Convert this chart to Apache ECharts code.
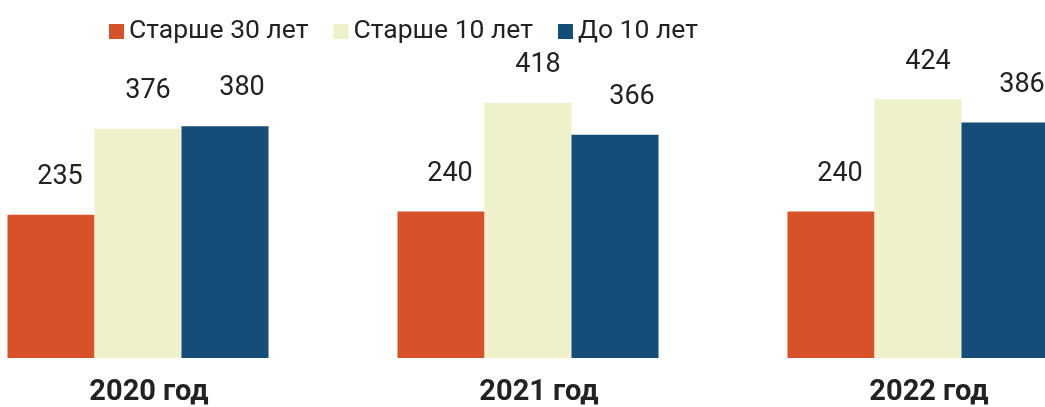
<!DOCTYPE html>
<html>
<head>
  <meta charset="utf-8">
  <title>Возраст</title>
  <style>
    html, body { margin: 0; padding: 0; background: #fff; }
    #chart { width: 1045px; height: 407px; }
  </style>
</head>
<body>
  <div id="chart"></div>
  <script src="https://cdn.jsdelivr.net/npm/echarts@6/dist/echarts.min.js"></script>
  <script>
    // данные по годам
    var years = ['2020 год', '2021 год', '2022 год'];
    var seriesNames = ['Старше 30 лет', 'Старше 10 лет', 'До 10 лет'];
    var over30 = [235, 240, 240];
    var over10 = [376, 418, 424];
    var under10 = [380, 366, 386];

    var colors = ['#D75228', '#EEF1C9', '#134D78'];
    var labelShift = [9, 10, 17];
    var values = [over30, over10, under10];

    var chart = echarts.init(document.getElementById('chart'));

    var series = [];
    for (var i = 0; i < values.length; i++) {
      series.push({
        name: seriesNames[i],
        type: 'bar',
        data: values[i],
        barWidth: 87,
        barGap: '0%',
        itemStyle: { color: colors[i] },
        label: {
          show: true,
          position: 'top',
          distance: 24,
          offset: [labelShift[i], 0],
          color: '#222',
          fontSize: 27,
          fontFamily: 'Roboto'
        }
      });
    }

    var option = {
      animation: false,
      textStyle: { fontFamily: 'Roboto' },
      legend: {
        data: seriesNames,
        left: 104,
        top: 13,
        itemWidth: 15,
        itemHeight: 15,
        itemGap: 25,
        icon: 'rect',
        textStyle: { fontSize: 26.5, color: '#222', fontFamily: 'Roboto' }
      },
      grid: {
        left: -57,
        right: -68,
        top: 53,
        bottom: 49,
        containLabel: false,
        outerBoundsMode: 'none'
      },
      xAxis: {
        type: 'category',
        data: years,
        axisLine: { show: false },
        axisTick: { show: false },
        axisLabel: {
          margin: 20,
          padding: [0, 0, 0, 22],
          fontSize: 29,
          fontWeight: 'bold',
          color: '#222',
          fontFamily: 'Roboto'
        }
      },
      yAxis: {
        type: 'value',
        min: 0,
        max: 500,
        show: false,
        splitLine: { show: false }
      },
      series: series
    };

    chart.setOption(option);
  </script>
</body>
</html>
